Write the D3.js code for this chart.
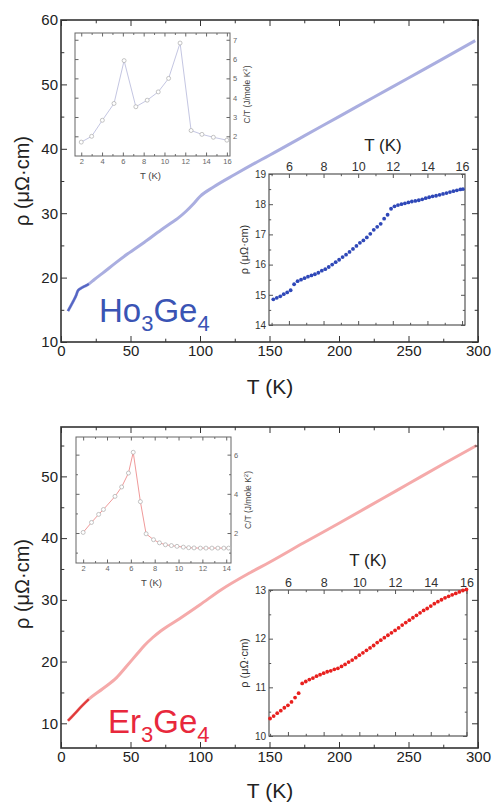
<!DOCTYPE html>
<html>
<head>
<meta charset="utf-8">
<script src="https://cdn.jsdelivr.net/npm/d3@7"></script>
<style>
body { margin: 0; background: #fff; }
svg text { font-family: "Liberation Sans", Arial, sans-serif; }
</style>
</head>
<body>
<div id="chart"></div>
<script>

// ---- Ho3Ge4 : resistivity 5-300 K
var hoT   = [5, 7, 9, 11, 12, 14, 17, 20, 24, 30, 40, 48, 60, 72, 80, 84, 90, 95, 100, 110, 125, 144, 150, 175, 200, 225, 250, 275, 298];
var hoRho = [14.8, 15.6, 16.4, 17.3, 17.9, 18.3, 18.65, 19.0, 19.7, 20.7, 22.4, 23.7, 25.5, 27.4, 28.6, 29.2, 30.3, 31.4, 32.6, 34.1, 36.0, 38.3, 39.0, 42.0, 45.0, 48.0, 51.0, 54.0, 56.8];

// Ho3Ge4 : C/T inset
var hoCT_T = [2, 3, 4.03, 5.15, 6.12, 7.25, 8.34, 9.4, 10.4, 11.5, 12.56, 13.6, 14.7, 16];
var hoCT   = [1.7, 2.0, 2.83, 3.7, 5.92, 3.53, 3.87, 4.3, 5.0, 6.83, 2.3, 2.1, 1.95, 1.8];

// Ho3Ge4 : low T resistivity inset
var hoLowT   = [5.1, 5.3, 5.5, 5.7, 5.9, 6.1, 6.3, 6.5, 6.7, 6.9, 7.1, 7.3, 7.5, 7.7, 7.9, 8.1, 8.3, 8.5, 8.7, 8.9, 9.1, 9.3, 9.5, 9.7, 9.9, 10.1, 10.3, 10.5, 10.7, 10.9, 11.1, 11.3, 11.5, 11.7, 11.9, 12.1, 12.3, 12.5, 12.7, 12.9, 13.1, 13.3, 13.5, 13.7, 13.9, 14.1, 14.3, 14.5, 14.7, 14.9, 15.1, 15.3, 15.5, 15.7, 15.9, 16.05];
var hoLowRho = [14.85, 14.9, 14.95, 15.02, 15.08, 15.15, 15.35, 15.45, 15.5, 15.55, 15.6, 15.64, 15.68, 15.73, 15.8, 15.85, 15.92, 16.0, 16.08, 16.16, 16.25, 16.33, 16.42, 16.52, 16.62, 16.72, 16.8, 16.9, 17.02, 17.15, 17.25, 17.35, 17.52, 17.65, 17.85, 17.93, 17.97, 18.0, 18.03, 18.06, 18.09, 18.11, 18.13, 18.16, 18.2, 18.23, 18.26, 18.28, 18.31, 18.34, 18.37, 18.4, 18.43, 18.46, 18.49, 18.5];

// ---- Er3Ge4 : resistivity 5-300 K
var erT   = [5, 10, 15, 20, 30, 40, 47, 55, 60, 66, 72, 85, 100, 115, 136, 150, 175, 200, 232, 250, 275, 299];
var erRho = [10.4, 11.6, 12.8, 13.9, 15.6, 17.4, 19.2, 21.3, 22.6, 23.9, 25.0, 26.9, 29.2, 31.6, 34.4, 36.1, 39.3, 42.4, 46.5, 48.8, 52.0, 55.0];

// Er3Ge4 : C/T inset
var erCT_T = [2, 2.7, 3.3, 3.7, 4.67, 5.23, 5.8, 6.2, 6.8, 7.28, 7.9, 8.4, 8.9, 9.4, 9.87, 10.4, 10.85, 11.3, 11.83, 12.3, 12.8, 13.3, 13.8, 14.2];
var erCT   = [2.03, 2.54, 2.95, 3.2, 3.87, 4.35, 5.06, 6.12, 3.6, 1.96, 1.66, 1.5, 1.4, 1.36, 1.32, 1.28, 1.25, 1.24, 1.23, 1.23, 1.23, 1.23, 1.23, 1.23];

// Er3Ge4 : low T resistivity inset
var erLowT   = [5.0, 5.2, 5.4, 5.6, 5.8, 6.0, 6.2, 6.4, 6.6, 6.8, 7.0, 7.2, 7.4, 7.6, 7.8, 8.0, 8.2, 8.4, 8.6, 8.8, 9.0, 9.2, 9.4, 9.6, 9.8, 10.0, 10.2, 10.4, 10.6, 10.8, 11.0, 11.2, 11.4, 11.6, 11.8, 12.0, 12.2, 12.4, 12.6, 12.8, 13.0, 13.2, 13.4, 13.6, 13.8, 14.0, 14.2, 14.4, 14.6, 14.8, 15.0, 15.2, 15.4, 15.6, 15.8, 16.0];
var erLowRho = [10.36, 10.41, 10.47, 10.52, 10.58, 10.63, 10.7, 10.79, 10.88, 11.08, 11.12, 11.16, 11.19, 11.23, 11.26, 11.29, 11.32, 11.34, 11.37, 11.39, 11.43, 11.47, 11.52, 11.56, 11.61, 11.66, 11.71, 11.76, 11.81, 11.86, 11.92, 11.97, 12.02, 12.07, 12.12, 12.17, 12.22, 12.28, 12.33, 12.38, 12.43, 12.48, 12.53, 12.58, 12.62, 12.67, 12.72, 12.76, 12.8, 12.84, 12.87, 12.9, 12.93, 12.96, 12.99, 13.01];

// tick values
var mainXMajor = [0, 50, 100, 150, 200, 250, 300];
var mainXMinor = [25, 75, 125, 175, 225, 275];


var svg = d3.select("#chart").append("svg")
	.attr("width", 492)
	.attr("height", 802);

function zip(a, b) {
	return a.map(function(d, i) { return [d, b[i]]; });
}

// draw one side of a frame: inward ticks, optional labels
function side(g, axisFn, scale, pos, major, minor, len, labels, fsize, color) {
	var ax = axisFn(scale).tickValues(major).tickSize(-len).tickPadding(3)
		.tickFormat(labels ? d3.format("~g") : "");
	var a = g.append("g").attr("transform", pos).call(ax);
	a.select(".domain").remove();
	a.selectAll("line").attr("stroke", color);
	a.selectAll("text").attr("font-size", fsize).attr("fill", color);
	a.attr("font-family", null);
	if (minor && minor.length) {
		var m = g.append("g").attr("transform", pos)
			.call(axisFn(scale).tickValues(minor).tickSize(-len * 0.55).tickFormat(""));
		m.select(".domain").remove();
		m.selectAll("line").attr("stroke", color);
	}
	return a;
}

function frame(g, x, y, o) {
	var x0 = x.range()[0], x1 = x.range()[1], y0 = y.range()[0], y1 = y.range()[1];
	g.append("rect")
		.attr("x", x0).attr("y", y1)
		.attr("width", x1 - x0).attr("height", y0 - y1)
		.attr("fill", o.fill || "none");
	side(g, d3.axisBottom, x, "translate(0," + y0 + ")", o.xMajor, o.xMinor, o.len, o.xLab == "bottom", o.fs, o.color);
	side(g, d3.axisTop, x, "translate(0," + y1 + ")", o.xMajor, o.xMinor, o.len, o.xLab == "top", o.fs, o.color);
	var l = side(g, d3.axisLeft, y, "translate(" + x0 + ",0)", o.yMajor, o.yMinor, o.len, o.yLab == "left", o.yfs || o.fs, o.color);
	side(g, d3.axisRight, y, "translate(" + x1 + ",0)", o.yMajor, o.yMinor, o.len, o.yLab == "right", o.yfs || o.fs, o.color);
	g.append("rect")
		.attr("x", x0).attr("y", y1)
		.attr("width", x1 - x0).attr("height", y0 - y1)
		.attr("fill", "none")
		.attr("stroke", o.color)
		.attr("stroke-width", o.sw);
}

function drawPanel(p) {
	var g = svg.append("g");

	var x = d3.scaleLinear().domain([0, 300]).range([61, 478]);
	var y = d3.scaleLinear().domain(p.yDomain).range(p.yRange);

	var line = d3.line()
		.x(function(d) { return x(d[0]); })
		.y(function(d) { return y(d[1]); })
		.curve(d3.curveMonotoneX);

	var pts = zip(p.T, p.rho);
	g.append("path")
		.datum(pts)
		.attr("fill", "none")
		.attr("stroke", p.lineColor)
		.attr("stroke-width", 3)
		.attr("d", line);
	g.append("path")
		.datum(pts.filter(function(d) { return d[0] <= 20; }))
		.attr("fill", "none")
		.attr("stroke", p.darkColor)
		.attr("stroke-width", 2.2)
		.attr("d", line);

	frame(g, x, y, {
		xMajor: mainXMajor, xMinor: mainXMinor,
		yMajor: p.yMajor, yMinor: p.yMinor,
		xLab: "bottom", yLab: "left",
		len: 6, fs: 15, color: "#333", sw: 1.6
	});
	g.selectAll(".tick text").attr("fill", "#222");

	g.append("text")
		.attr("x", 270).attr("y", p.xTitleY)
		.attr("text-anchor", "middle")
		.attr("font-size", 21)
		.attr("fill", "#222")
		.text("T (K)");

	g.append("text")
		.attr("transform", "translate(29," + p.yTitleY + ") rotate(-90)")
		.attr("text-anchor", "middle")
		.attr("font-size", 20)
		.attr("fill", "#222")
		.text("ρ (μΩ·cm)");

	// compound name
	var name = g.append("text")
		.attr("x", p.nameX).attr("y", p.nameY)
		.attr("font-size", 33)
		.attr("fill", p.nameColor);
	name.append("tspan").text(p.name[0]);
	name.append("tspan").attr("font-size", 22).attr("dy", 9).text("3");
	name.append("tspan").attr("dy", -9).text("Ge");
	name.append("tspan").attr("font-size", 22).attr("dy", 9).text("4");

	// C/T inset
	var c = p.ct;
	var cg = svg.append("g");
	var cx = d3.scaleLinear().domain(c.xDomain).range(c.xRange);
	var cy = d3.scaleLinear().domain(c.yDomain).range(c.yRange);
	frame(cg, cx, cy, {
		xMajor: c.xMajor, xMinor: c.xMinor, yMajor: c.yMajor, yMinor: c.yMinor,
		xLab: "bottom", yLab: "right", len: 3.5, fs: 7.5, color: "#666", sw: 1, fill: "#fff"
	});
	var cpts = zip(c.T, c.v);
	cg.append("path")
		.datum(cpts)
		.attr("fill", "none")
		.attr("stroke", c.lineColor)
		.attr("stroke-width", 1)
		.attr("d", d3.line().x(function(d) { return cx(d[0]); }).y(function(d) { return cy(d[1]); }));
	cg.selectAll(".ct-pt")
		.data(cpts)
		.enter().append("circle")
		.attr("class", "ct-pt")
		.attr("cx", function(d) { return cx(d[0]); })
		.attr("cy", function(d) { return cy(d[1]); })
		.attr("r", 2)
		.attr("fill", "#fff")
		.attr("stroke", "#aaa")
		.attr("stroke-width", 0.7);
	cg.append("text")
		.attr("x", (c.xRange[0] + c.xRange[1]) / 2 - 2).attr("y", c.yRange[0] + 23)
		.attr("text-anchor", "middle")
		.attr("font-size", 9.5)
		.attr("fill", "#444")
		.text("T (K)");
	var ctl = cg.append("text")
		.attr("transform", "translate(" + (c.xRange[1] + 20) + "," + ((c.yRange[0] + c.yRange[1]) / 2) + ") rotate(-90)")
		.attr("text-anchor", "middle")
		.attr("font-size", 8.5)
		.attr("fill", "#444");
	ctl.append("tspan").text("C/T (J/mole K");
	ctl.append("tspan").attr("font-size", 6).attr("dy", -3).text("2");
	ctl.append("tspan").attr("dy", 3).text(")");

	// low T resistivity inset
	var r = p.low;
	var rg = svg.append("g");
	var rx = d3.scaleLinear().domain(r.xDomain).range(r.xRange);
	var ry = d3.scaleLinear().domain(r.yDomain).range(r.yRange);
	frame(rg, rx, ry, {
		xMajor: [6, 8, 10, 12, 14, 16], xMinor: [5, 7, 9, 11, 13, 15],
		yMajor: r.yMajor, yMinor: r.yMinor,
		xLab: "top", yLab: "left", len: 4, fs: 12.5, yfs: 10, color: "#555", sw: 1.2, fill: "#fff"
	});
	rg.selectAll(".tick text").attr("fill", "#333");

	rg.selectAll(".rho-pt")
		.data(zip(r.T, r.v))
		.enter().append("circle")
		.attr("class", "rho-pt")
		.attr("cx", function(d) { return rx(d[0]); })
		.attr("cy", function(d) { return ry(d[1]); })
		.attr("r", 1.9)
		.attr("fill", r.dotColor);
	rg.append("text")
		.attr("x", r.titleX).attr("y", r.titleY)
		.attr("text-anchor", "middle")
		.attr("font-size", 17)
		.attr("fill", "#222")
		.text("T (K)");
	rg.append("text")
		.attr("transform", "translate(248," + ((r.yRange[0] + r.yRange[1]) / 2) + ") rotate(-90)")
		.attr("text-anchor", "middle")
		.attr("font-size", 11)
		.attr("fill", "#333")
		.text("ρ (μΩ·cm)");
}

drawPanel({
	T: hoT, rho: hoRho,
	yDomain: [10, 60], yRange: [342, 20],
	yMajor: [10, 20, 30, 40, 50, 60], yMinor: [15, 25, 35, 45, 55],
	lineColor: "#aaaee0", darkColor: "#5566c4",
	xTitleY: 394, yTitleY: 181,
	name: ["Ho"], nameX: 99, nameY: 322, nameColor: "#3a54b4",
	ct: {
		T: hoCT_T, v: hoCT,
		xDomain: [1.4, 16.3], xRange: [75, 230],
		yDomain: [0.98, 7.35], yRange: [156, 33],
		xMajor: [2, 4, 6, 8, 10, 12, 14, 16], xMinor: [3, 5, 7, 9, 11, 13, 15],
		yMajor: [2, 3, 4, 5, 6, 7], yMinor: [],
		lineColor: "#c4c6e2"
	},
	low: {
		T: hoLowT, v: hoLowRho,
		xDomain: [4.85, 16.17], xRange: [269, 465],
		yDomain: [14, 19], yRange: [325, 174],
		yMajor: [14, 15, 16, 17, 18, 19], yMinor: [14.5, 15.5, 16.5, 17.5, 18.5],
		dotColor: "#2f48b8",
		titleX: 383, titleY: 151
	}
});

drawPanel({
	T: erT, rho: erRho,
	yDomain: [6, 58], yRange: [748, 427],
	yMajor: [10, 20, 30, 40, 50], yMinor: [15, 25, 35, 45, 55],
	lineColor: "#f5aaaa", darkColor: "#e03a3a",
	xTitleY: 798, yTitleY: 584,
	name: ["Er"], nameX: 108, nameY: 733, nameColor: "#e8283c",
	ct: {
		T: erCT_T, v: erCT,
		xDomain: [1.4, 14.4], xRange: [76, 231],
		yDomain: [0.47, 6.9], yRange: [563, 437],
		xMajor: [2, 4, 6, 8, 10, 12, 14], xMinor: [3, 5, 7, 9, 11, 13],
		yMajor: [2, 4, 6], yMinor: [1, 3, 5],
		lineColor: "#f09a9a"
	},
	low: {
		T: erLowT, v: erLowRho,
		xDomain: [4.94, 16.03], xRange: [269, 467],
		yDomain: [10, 13], yRange: [736, 590],
		yMajor: [10, 11, 12, 13], yMinor: [10.5, 11.5, 12.5],
		dotColor: "#e8201e",
		titleX: 368, titleY: 566
	}
});

</script>
</body>
</html>
